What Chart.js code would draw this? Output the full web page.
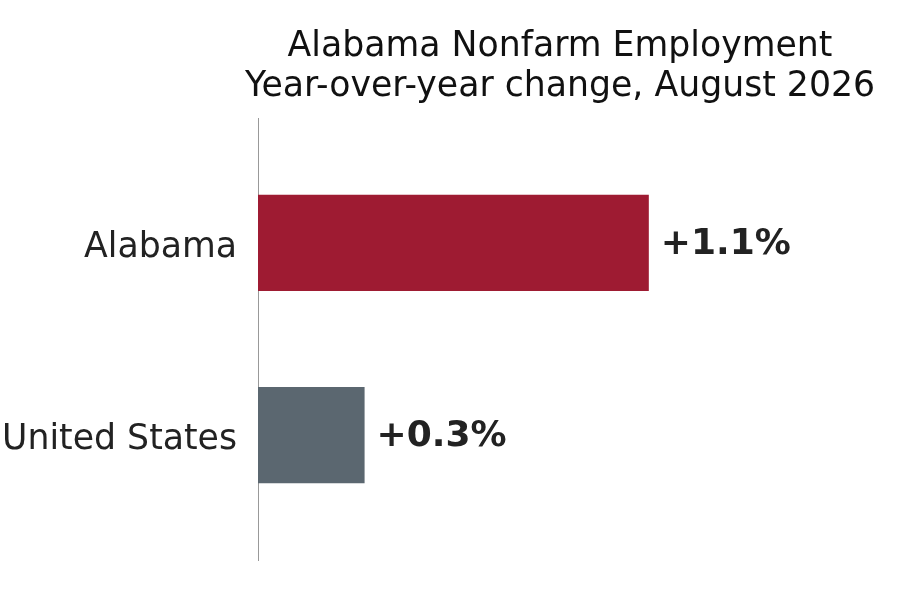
<!DOCTYPE html>
<html>
<head>
<meta charset="utf-8">
<script src="https://cdn.jsdelivr.net/npm/chart.js@4.4.1/dist/chart.umd.min.js"></script>
<style>
  html, body { margin: 0; padding: 0; background: #fff; }
  #wrap { width: 919px; height: 590px; }
</style>
</head>
<body>
<div id="wrap"><canvas id="yoyChart"></canvas></div>
<script>
const regions = ['Alabama', 'United States'];
const yoyChange = [1.1, 0.3]; // percent change, year over year
const barColors = ['#9e1b32', '#5b6770'];
const titleLines = ['Alabama Nonfarm Employment', 'Year-over-year change, August 2026'];

const FONT = "'DejaVu Sans', sans-serif";

// title centred over the plot area (the built-in one centres on the canvas
// and squeezes long lines to fit its box)
const plotTitle = {
    id: 'plotTitle',
    afterDraw(chart) {
        const { ctx, chartArea } = chart;
        const cx = (chartArea.left + chartArea.right) / 2;
        ctx.save();
        ctx.font = '34.7px ' + FONT;
        ctx.fillStyle = '#111111';
        ctx.textAlign = 'center';
        ctx.textBaseline = 'alphabetic';
        ctx.fillText(titleLines[0], cx, chartArea.top - 62.5);
        ctx.fillText(titleLines[1], cx, chartArea.top - 22);
        ctx.restore();
    }
};

// writes "+1.1%" just past the end of each bar
const valueLabels = {
    id: 'valueLabels',
    afterDatasetsDraw(chart) {
        const ctx = chart.ctx;
        const meta = chart.getDatasetMeta(0);
        ctx.save();
        ctx.font = 'bold 36px ' + FONT;
        ctx.fillStyle = '#222222';
        ctx.textAlign = 'left';
        ctx.textBaseline = 'middle';
        meta.data.forEach((bar, i) => {
            const v = yoyChange[i];
            ctx.fillText((v >= 0 ? '+' : '') + v.toFixed(1) + '%', bar.x + 12, bar.y + 2);
        });
        ctx.restore();
    }
};

const ctx = document.getElementById('yoyChart').getContext('2d');

new Chart(ctx, {
    type: 'bar',
    data: {
        datasets: [{
            data: yoyChange.map((v, i) => ({ x: v, y: i })),
            backgroundColor: barColors,
            barPercentage: 0.5,
            categoryPercentage: 1.0,
            borderWidth: 0
        }]
    },
    options: {
        indexAxis: 'y',
        responsive: true,
        maintainAspectRatio: false,
        animation: false,
        layout: { padding: { left: 0, right: 57, top: 118, bottom: 30 } },
        plugins: {
            legend: { display: false },
            tooltip: { enabled: false },
            title: { display: false }
        },
        scales: {
            x: {
                display: false,
                min: 0,
                max: 1.7
            },
            y: {
                type: 'linear',
                reverse: true,
                offset: false,
                min: -0.65,
                max: 1.65,
                afterFit(scale) {
                    scale.width = 258;
                    scale.paddingTop = 0;
                    scale.paddingBottom = 0;
                },
                afterBuildTicks(scale) {
                    scale.ticks = regions.map((_, i) => ({ value: i }));
                },
                grid: { display: false, drawTicks: false, offset: false },
                border: { display: true, color: '#999999', width: 1 },
                ticks: {
                    padding: 21,
                    labelOffset: 5,
                    color: '#222222',
                    font: { family: FONT, size: 34.7 },
                    callback: (v) => regions[v] ?? ''
                }
            }
        }
    },
    plugins: [plotTitle, valueLabels]
});
</script>
</body>
</html>
